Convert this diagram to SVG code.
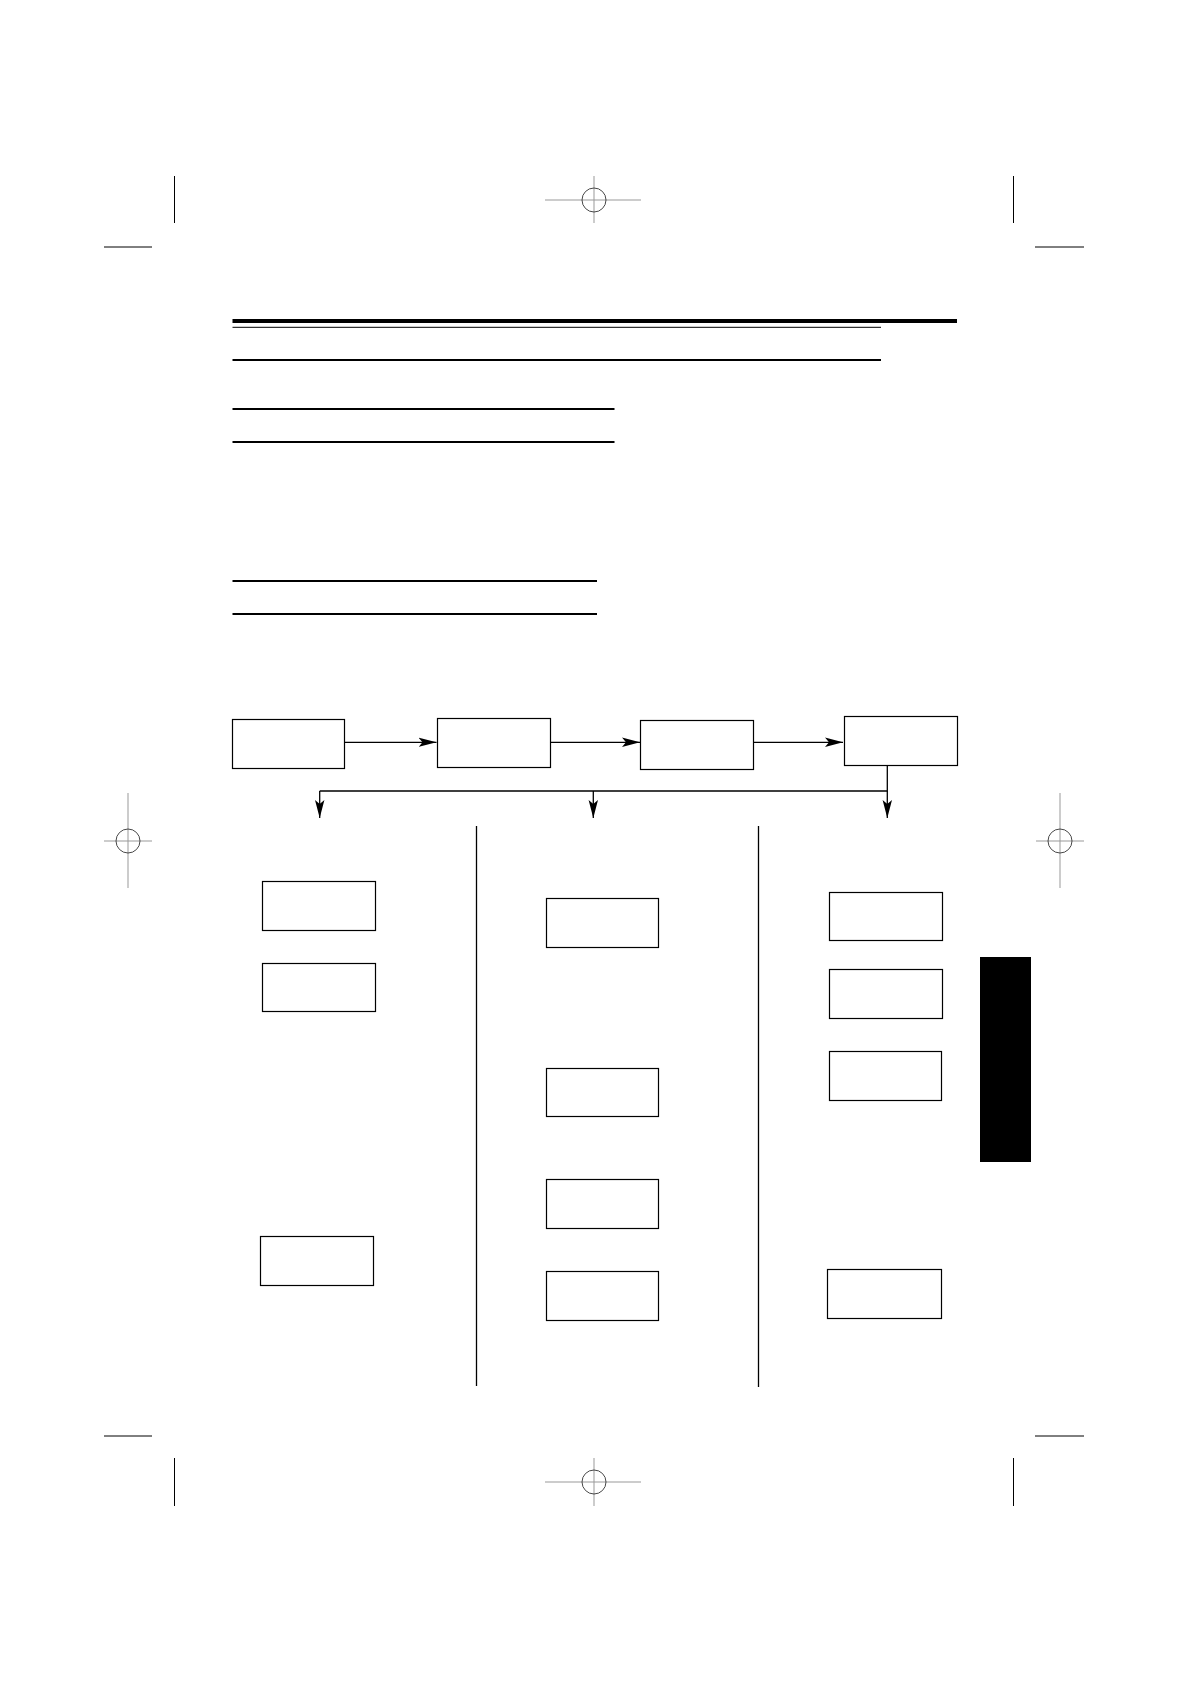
<svg xmlns="http://www.w3.org/2000/svg" width="1190" height="1684" viewBox="0 0 1190 1684">
<style>
.box{fill:#fff;stroke:#000;stroke-width:1.2}
.conn{fill:none;stroke:#000;stroke-width:1.3}
.div{stroke:#000;stroke-width:1.3}
.crop{stroke:#000;stroke-width:1}
.reg{stroke:#999;stroke-width:1}
.regc{fill:none;stroke:#333;stroke-width:0.9}
</style>
<defs>
<marker id="ah" markerUnits="userSpaceOnUse" markerWidth="18" markerHeight="10" refX="18" refY="4.7" orient="auto" viewBox="0 0 18 9.4">
<path d="M0,0 L18,4.7 L0,9.4 L4,4.7 Z" fill="#000"/>
</marker>
</defs>
<rect width="1190" height="1684" fill="#fff"/>
<g id="cropmarks">
<line class="crop" x1="174.5" y1="176" x2="174.5" y2="223"/>
<line class="crop" x1="1013.5" y1="176" x2="1013.5" y2="223"/>
<line class="crop" x1="104" y1="247" x2="152" y2="247"/>
<line class="crop" x1="1035" y1="247" x2="1084" y2="247"/>
<line class="crop" x1="104" y1="1436" x2="152" y2="1436"/>
<line class="crop" x1="1035" y1="1436" x2="1084" y2="1436"/>
<line class="crop" x1="174.5" y1="1458" x2="174.5" y2="1506"/>
<line class="crop" x1="1013.5" y1="1458" x2="1013.5" y2="1506"/>
</g>
<g id="registration">
<line class="reg" x1="594" y1="176" x2="594" y2="223"/>
<line class="reg" x1="545" y1="200" x2="641" y2="200"/>
<circle class="regc" cx="594" cy="200" r="12"/>
<line class="reg" x1="594" y1="1458" x2="594" y2="1506"/>
<line class="reg" x1="545" y1="1482" x2="641" y2="1482"/>
<circle class="regc" cx="594" cy="1482" r="12"/>
<line class="reg" x1="128" y1="793" x2="128" y2="888"/>
<line class="reg" x1="104" y1="841" x2="152" y2="841"/>
<circle class="regc" cx="128" cy="841" r="12"/>
<line class="reg" x1="1060" y1="793" x2="1060" y2="888"/>
<line class="reg" x1="1036" y1="841" x2="1084" y2="841"/>
<circle class="regc" cx="1060" cy="841" r="12"/>
</g>
<g id="rules">
<rect x="232.5" y="319" width="724.5" height="4" fill="#000"/>
<rect x="232.5" y="326.8" width="648.5" height="1" fill="#000"/>
<rect x="232.5" y="359" width="648.5" height="2" fill="#000"/>
<rect x="232.5" y="408" width="382" height="2" fill="#000"/>
<rect x="232.5" y="441" width="382" height="2" fill="#000"/>
<rect x="232.5" y="580" width="364.5" height="2" fill="#000"/>
<rect x="232.5" y="613" width="364.5" height="2" fill="#000"/>
</g>
<rect id="tab" x="980" y="957" width="51" height="205" fill="#000"/>
<g id="connectors">
<line class="conn" x1="344.5" y1="742.3" x2="436.5" y2="742.3" marker-end="url(#ah)"/>
<line class="conn" x1="548.5" y1="742.3" x2="640" y2="742.3" marker-end="url(#ah)"/>
<line class="conn" x1="752" y1="742.3" x2="843" y2="742.3" marker-end="url(#ah)"/>
<polyline class="conn" points="887.3,765.5 887.3,791 319.7,791"/>
<line class="conn" x1="887.3" y1="791" x2="887.3" y2="818" marker-end="url(#ah)"/>
<line class="conn" x1="319.7" y1="791" x2="319.7" y2="818" marker-end="url(#ah)"/>
<line class="conn" x1="593.3" y1="791" x2="593.3" y2="818" marker-end="url(#ah)"/>
</g>
<g id="dividers">
<line class="div" x1="476.5" y1="826" x2="476.5" y2="1386"/>
<line class="div" x1="758.5" y1="826" x2="758.5" y2="1387"/>
</g>
<g id="n1"><rect class="box" x="232.5" y="719.5" width="112" height="49"/></g>
<g id="n2"><rect class="box" x="437.5" y="718.5" width="113" height="49"/></g>
<g id="n3"><rect class="box" x="640.5" y="720.5" width="113" height="49"/></g>
<g id="n4"><rect class="box" x="844.5" y="716.5" width="113" height="49"/></g>
<g id="l1"><rect class="box" x="262.5" y="881.5" width="113" height="49"/></g>
<g id="l2"><rect class="box" x="262.5" y="963.5" width="113" height="48"/></g>
<g id="l3"><rect class="box" x="260.5" y="1236.5" width="113" height="49"/></g>
<g id="m1"><rect class="box" x="546.5" y="898.5" width="112" height="49"/></g>
<g id="m2"><rect class="box" x="546.5" y="1068.5" width="112" height="48"/></g>
<g id="m3"><rect class="box" x="546.5" y="1179.5" width="112" height="49"/></g>
<g id="m4"><rect class="box" x="546.5" y="1271.5" width="112" height="49"/></g>
<g id="r1"><rect class="box" x="829.5" y="892.5" width="113" height="48"/></g>
<g id="r2"><rect class="box" x="829.5" y="969.5" width="113" height="49"/></g>
<g id="r3"><rect class="box" x="829.5" y="1051.5" width="112" height="49"/></g>
<g id="r4"><rect class="box" x="827.5" y="1269.5" width="114" height="49"/></g>
</svg>
